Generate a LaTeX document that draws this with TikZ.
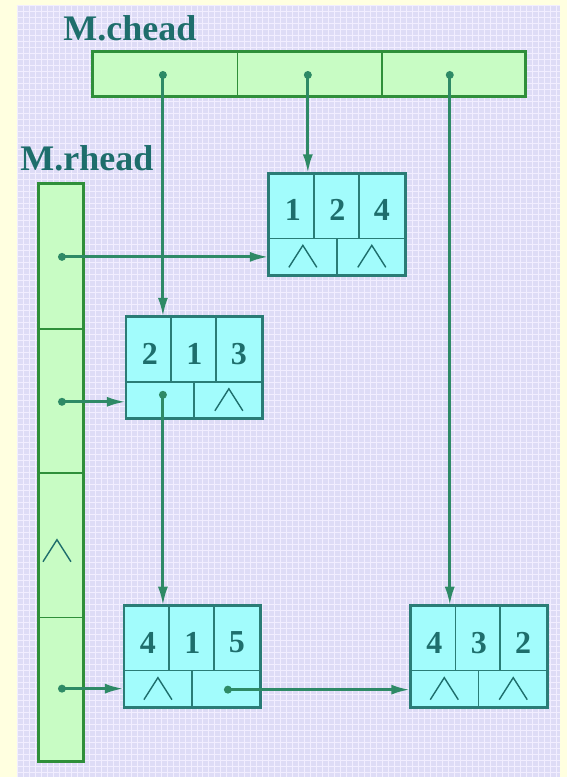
\documentclass[tikz,border=0pt]{standalone}
\usepackage{fontspec}
\setmainfont{Liberation Serif}
\usetikzlibrary{arrows.meta,calc}

\definecolor{cream}{HTML}{FFFFE0}
\definecolor{lav}{HTML}{DEDCF6}
\definecolor{gridc}{HTML}{F2EEFF}
\definecolor{headgreen}{HTML}{2F8F3A}
\definecolor{headfill}{HTML}{C8FCC4}
\definecolor{cellfill}{HTML}{A2FCFC}
\definecolor{cellrim}{HTML}{2A7C76}
\definecolor{linkc}{HTML}{2E8A66}
\definecolor{txtc}{HTML}{1E6E6C}

\tikzset{
  headbox/.style={draw=headgreen, fill=headfill, line width=3pt, inner sep=0pt, outer sep=0pt},
  listbox/.style={draw=cellrim, fill=cellfill, line width=2.8pt, inner sep=0pt, outer sep=0pt,
                  minimum width=137pt, minimum height=102pt},
  divider/.style={draw=cellrim, line width=1.5pt},
  headdiv/.style={draw=headgreen, line width=1.5pt},
  digit/.style={text=txtc, font=\fontsize{32}{32}\selectfont\bfseries, inner sep=0pt},
  title/.style={text=txtc, font=\fontsize{36}{36}\selectfont\bfseries, inner sep=0pt},
  wedge/.style={draw=txtc, line width=1.4pt, line join=miter},
  link/.style={draw=linkc, line width=3pt, -{Latex[length=19pt,width=10pt]}},
  gridline/.style={draw=gridc, line width=0.8pt}
}

% one element of the cross list: row, column, value
\newcommand\crossnode[5]{%
  \node[listbox] (#1) at (#2) {};
  \draw[divider] ($(#1.north west)+(0,65)$) -- ($(#1.north east)+(0,65)$);
  \draw[divider] ($(#1.north west)+(45,0)$) -- ($(#1.north west)+(45,65)$);
  \draw[divider] ($(#1.north west)+(90,0)$) -- ($(#1.north west)+(90,65)$);
  \draw[divider] ($(#1.north west)+(68,65)$) -- ($(#1.south west)+(68,0)$);
  \node[digit] (#1-i) at ($(#1.north west)+(24,37)$) {#3};
  \node[digit] (#1-j) at ($(#1.north west)+(68.5,37)$) {#4};
  \node[digit] (#1-e) at ($(#1.north west)+(113,37)$) {#5};
  \coordinate (#1-down) at ($(#1.north west)+(34,83)$);
  \coordinate (#1-right) at ($(#1.north west)+(103,83)$);
}
% null pointer mark
\newcommand\nullmark[1]{%
  \draw[wedge] ($(#1)+(-14,11)$) -- ($(#1)+(0,-11)$) -- ($(#1)+(14,11)$);
}
\newcommand\ptrdot[1]{\fill[linkc] (#1) circle (4);}

\begin{document}
\begin{tikzpicture}[x=1pt,y=-1pt]
  % backdrop
  \fill[cream] (0,0) rectangle (567,777);
  \fill[lav] (17,5) rectangle (560,777);
  \foreach \gx in {17,23,...,560} \draw[gridline] (\gx,5) -- (\gx,777);
  \foreach \gy in {5,11,...,777} \draw[gridline] (17,\gy) -- (560,\gy);
  \useasboundingbox (0,0) rectangle (567,777);

  % column head vector
  \node[title] (chlabel) at (130,28) {M.chead};
  \node[headbox, minimum width=433pt, minimum height=45pt] (chead) at (309.5,74.5) {};
  \draw[headdiv] ($(chead.north west)+(144.5,0)$) -- ($(chead.south west)+(144.5,0)$);
  \draw[headdiv] ($(chead.north west)+(289,0)$) -- ($(chead.south west)+(289,0)$);
  \coordinate (c1) at (163,75);
  \coordinate (c2) at (308,75);
  \coordinate (c3) at (450,75);

  % row head vector
  \node[title] (rhlabel) at (87,158) {M.rhead};
  \node[headbox, minimum width=45pt, minimum height=578pt] (rhead) at (61,473) {};
  \draw[headdiv] ($(rhead.north west)+(0,145)$) -- ($(rhead.north east)+(0,145)$);
  \draw[headdiv] ($(rhead.north west)+(0,289)$) -- ($(rhead.north east)+(0,289)$);
  \draw[headdiv] ($(rhead.north west)+(0,434)$) -- ($(rhead.north east)+(0,434)$);
  \coordinate (r1) at (62,257);
  \coordinate (r2) at (62,402);
  \coordinate (r4) at (62,689);
  \nullmark{57,551}

  % nonzero elements
  \crossnode{a}{337.5,224.5}{1}{2}{4}
  \crossnode{b}{194.5,368}{2}{1}{3}
  \crossnode{c}{192.5,657}{4}{1}{5}
  \crossnode{d}{479,657}{4}{3}{2}

  \nullmark{a-down}
  \nullmark{a-right}
  \nullmark{b-right}
  \nullmark{c-down}
  \nullmark{d-down}
  \nullmark{d-right}

  % column links
  \draw[link] (c1) -- (c1 |- b.north);
  \draw[link] (c2) -- (c2 |- a.north);
  \draw[link] (c3) -- (c3 |- d.north);
  \coordinate (bdown) at ($(b.north west)+(37,78)$);
  \draw[link] (bdown) -- (bdown |- c.north);

  % row links
  \draw[link] (r1) -- (r1 -| a.west);
  \draw[link] (r2) -- (r2 -| b.west);
  \draw[link] (r4) -- (r4 -| c.west);
  \coordinate (cright) at ($(c.north west)+(104,84)$);
  \draw[link] (cright) -- (cright -| d.west);

  \ptrdot{c1}\ptrdot{c2}\ptrdot{c3}
  \ptrdot{r1}\ptrdot{r2}\ptrdot{r4}
  \ptrdot{bdown}\ptrdot{cright}
\end{tikzpicture}
\end{document}
